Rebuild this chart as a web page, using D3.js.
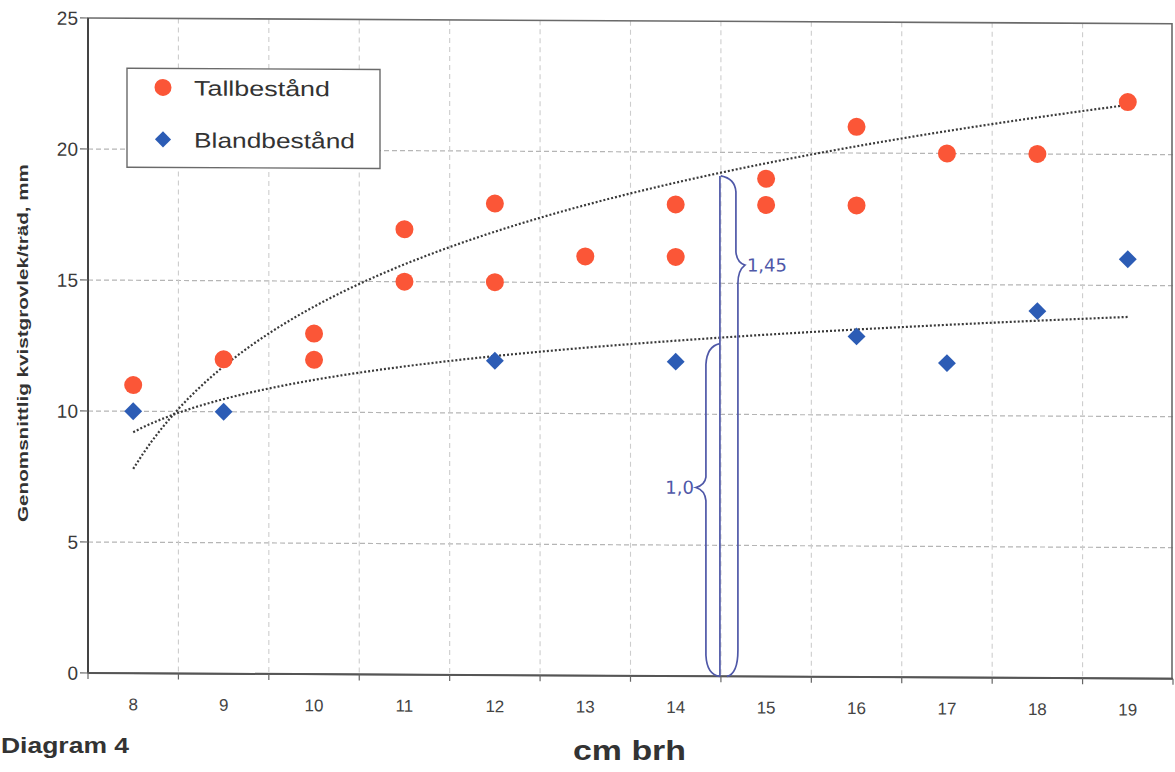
<!DOCTYPE html>
<html><head><meta charset="utf-8">
<script src="https://cdn.jsdelivr.net/npm/d3@7"></script>
<style>
body{margin:0;background:#fff;}
svg{display:block;font-family:"Liberation Sans",Arial,sans-serif;}
</style></head>
<body>
<svg id="c" width="1175" height="772"></svg>
<script>
// ---- data ----
const categories = ["8","9","10","11","12","13","14","15","16","17","18","19"];
const yTicks = [0,5,10,15,20,25];
const tallX = ["8","9","10","10","11","11","12","12","13","14","14","15","15","16","16","17","18","19"];
const tallY = [11,12,13,12,17,15,18,15,16,18,16,19,18,21,18,20,20,22];
const blandX = ["8","9","12","14","16","17","18","19"];
const blandY = [10,10,12,12,13,12,14,16];
// logarithmic trend coefficients (a + b*ln(categoryIndex))
const trendTall = [7.8, 5.67];
const trendBland = [9.2, 1.85];
const seriesNames = ["Tallbestånd","Blandbestånd"];
const seriesColors = ["#fb5637","#2c5cb5"];

const svg = d3.select("#c");
const L = 88, R = 1173, T = 18, B = 673;
const x = d3.scaleBand().domain(categories).range([L,R]).paddingInner(0).paddingOuter(0);
const bw = x.bandwidth();
const y = d3.scaleLinear().domain([0,25]).range([B,T]);
const xi = d3.scaleLinear().domain([1,categories.length]).range([x(categories[0])+bw/2, x(categories[categories.length-1])+bw/2]);

const g = svg.append("g").attr("transform",`translate(${L},0) skewY(0.3) translate(${-L},0)`);

// gridlines
g.append("g").selectAll("line").data(yTicks.filter(v=>v>0&&v<25)).join("line")
  .attr("x1",L).attr("x2",R).attr("y1",d=>y(d)).attr("y2",d=>y(d))
  .attr("stroke","#b5b5b5").attr("stroke-width",1.2).attr("stroke-dasharray","5,3");
const bounds = categories.slice(0,-1).map(c=>x(c)+bw);
g.append("g").selectAll("line").data(bounds).join("line")
  .attr("x1",d=>d).attr("x2",d=>d).attr("y1",T).attr("y2",B)
  .attr("stroke","#cdcdcd").attr("stroke-width",1.1).attr("stroke-dasharray","5,4");

// frame
g.append("rect").attr("x",L).attr("y",T).attr("width",R-L-1).attr("height",B-T)
  .attr("fill","none").attr("stroke","#6a6a6a").attr("stroke-width",1.6);
g.append("line").attr("x1",L).attr("x2",L).attr("y1",T).attr("y2",B).attr("stroke","#444").attr("stroke-width",2);
g.append("line").attr("x1",L).attr("x2",R).attr("y1",B).attr("y2",B).attr("stroke","#555").attr("stroke-width",2);

// y axis ticks & labels
const ya = g.append("g");
ya.selectAll("line").data(yTicks).join("line")
  .attr("x1",L-8).attr("x2",L).attr("y1",d=>y(d)).attr("y2",d=>y(d)).attr("stroke","#666").attr("stroke-width",1.2);
ya.selectAll("text").data(yTicks).join("text")
  .attr("x",L-10).attr("y",d=>y(d)).attr("dy","0.36em").attr("text-anchor","end")
  .attr("font-size",19).attr("fill","#3a3a3a").text(d=>d);

// x axis ticks & labels
const xa = g.append("g");
xa.selectAll("line").data([L,...bounds,R]).join("line")
  .attr("x1",d=>d).attr("x2",d=>d).attr("y1",B).attr("y2",B+6).attr("stroke","#666").attr("stroke-width",1.2);
xa.selectAll("text").data(categories).join("text")
  .attr("x",d=>x(d)+bw/2).attr("y",B+37).attr("text-anchor","middle")
  .attr("font-size",17).attr("fill","#444").text(d=>d);

// trend lines
function trendPath(c){
  const pts = d3.range(1, categories.length+0.001, 0.1).map(i=>[xi(i), y(c[0]+c[1]*Math.log(i))]);
  return d3.line().curve(d3.curveLinear)(pts);
}
[trendTall, trendBland].forEach(c=>{
  g.append("path").attr("d",trendPath(c)).attr("fill","none")
   .attr("stroke","#3a3a3a").attr("stroke-width",2.2).attr("stroke-dasharray","2,2");
});

// annotation (handwritten braces)
const ax = x("14")+bw; // boundary between 14 and 15
const ink = "#4f58a8";
const ann = g.append("g").attr("fill","none").attr("stroke",ink).attr("stroke-width",1.7);
ann.append("path").attr("d",`M${ax-1},${y(19.1)} L${ax-1},${y(0)}`);
ann.append("path").attr("d",
 `M${ax},${y(19.1)} Q${ax+14},${y(19.0)} ${ax+15},${y(18.5)} L${ax+15},${y(16.2)} Q${ax+16},${y(15.8)} ${ax+24},${y(15.7)} Q${ax+17},${y(15.5)} ${ax+17},${y(15.0)} L${ax+17},${y(1)} Q${ax+17},${y(0.1)} ${ax+6},${y(0)}`);
ann.append("path").attr("d",
 `M${ax-1},${y(12.7)} Q${ax-14},${y(12.6)} ${ax-15},${y(11.9)} L${ax-15},${y(7.6)} Q${ax-16},${y(7.3)} ${ax-25},${y(7.2)} Q${ax-16},${y(7.1)} ${ax-15},${y(6.7)} L${ax-15},${y(0.8)} Q${ax-14},${y(0.05)} ${ax-1},${y(0)}`);
g.append("text").attr("x",ax+26).attr("y",y(15.7)).attr("dy","0.35em").attr("fill",ink)
  .attr("font-family","DejaVu Sans").attr("font-size",18).text("1,45");
g.append("text").attr("x",ax-27).attr("y",y(7.2)).attr("dy","0.35em").attr("text-anchor","end").attr("fill",ink)
  .attr("font-family","DejaVu Sans").attr("font-size",18).text("1,0");

// points
g.append("g").selectAll("circle").data(tallY).join("circle")
  .attr("cx",(d,i)=>x(tallX[i])+bw/2).attr("cy",d=>y(d)).attr("r",9).attr("fill",seriesColors[0]);
const dia = d3.symbol().type(d3.symbolSquare).size(160);
g.append("g").selectAll("path").data(blandY).join("path")
  .attr("d",dia).attr("fill",seriesColors[1])
  .attr("transform",(d,i)=>`translate(${x(blandX[i])+bw/2},${y(d)}) rotate(45)`);

// legend
const lg = g.append("g");
lg.append("rect").attr("x",127).attr("y",68).attr("width",253).attr("height",99)
  .attr("fill","#fff").attr("stroke","#6a6a6a").attr("stroke-width",1.4);
lg.append("circle").attr("cx",163).attr("cy",87).attr("r",8.5).attr("fill",seriesColors[0]);
lg.append("path").attr("d",d3.symbol().type(d3.symbolSquare).size(130)).attr("fill",seriesColors[1])
  .attr("transform","translate(163,139) rotate(45)");
lg.selectAll("text").data(seriesNames).join("text")
  .attr("x",194).attr("y",(d,i)=>i?147:95).attr("font-size",21).attr("fill","#333")
  .attr("textLength",(d,i)=>i?161:136).attr("lengthAdjust","spacingAndGlyphs").text(d=>d);

// axis titles
svg.append("text").attr("transform","translate(28,343) rotate(-90)").attr("text-anchor","middle")
  .attr("font-size",14).attr("font-weight","bold").attr("fill","#333")
  .attr("textLength",358).attr("lengthAdjust","spacingAndGlyphs")
  .text("Genomsnittlig kvistgrovlek/träd, mm");
svg.append("text").attr("x",573).attr("y",760).attr("font-size",27).attr("font-weight","bold").attr("fill","#333")
  .attr("textLength",113).attr("lengthAdjust","spacingAndGlyphs").text("cm brh");
svg.append("text").attr("x",1).attr("y",753).attr("font-size",22).attr("font-weight","bold").attr("fill","#333")
  .attr("textLength",128).attr("lengthAdjust","spacingAndGlyphs").text("Diagram 4");
</script>
</body></html>
